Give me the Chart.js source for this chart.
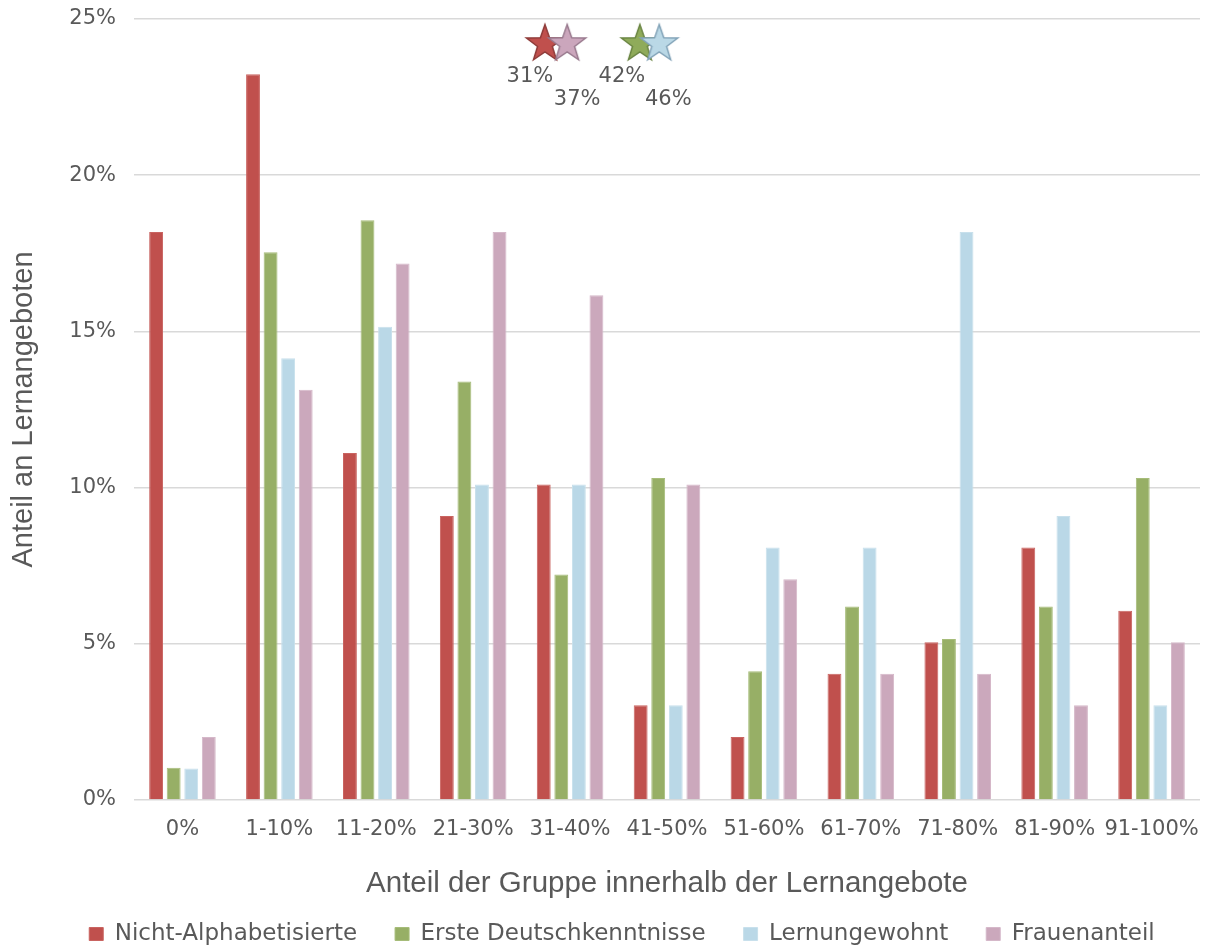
<!DOCTYPE html>
<html>
<head>
<meta charset="utf-8">
<script src="https://cdn.jsdelivr.net/npm/chart.js@4/dist/chart.umd.min.js"></script>
<style>
  html, body { margin: 0; padding: 0; background: #ffffff; }
  #wrap { width: 1219px; height: 947px; }
  canvas { display: block; }
</style>
</head>
<body>
<div id="wrap"><canvas id="chart" width="1219" height="947"></canvas></div>
<script>
// Gruppenanteil innerhalb der Lernangebote (Kategorien der x-Achse)
const categories = ['0%', '1-10%', '11-20%', '21-30%', '31-40%', '41-50%',
                    '51-60%', '61-70%', '71-80%', '81-90%', '91-100%'];

// Anteil an Lernangeboten in Prozent, je Gruppe
const nichtAlphabetisierte = [18.18, 23.23, 11.11, 9.09, 10.10, 3.03, 2.02, 4.04, 5.05, 8.08, 6.06];
const ersteDeutschkenntnisse = [1.03, 17.53, 18.56, 13.40, 7.22, 10.31, 4.12, 6.19, 5.15, 6.19, 10.31];
const lernungewohnt = [1.01, 14.14, 15.15, 10.10, 10.10, 3.03, 8.08, 8.08, 18.18, 9.09, 3.03];
const frauenanteil = [2.02, 13.13, 17.17, 18.18, 16.16, 10.10, 7.07, 4.04, 4.04, 3.03, 5.05];

// Durchschnittswerte je Gruppe (Sternmarker oben im Diagramm)
const meanValues = [31, 37, 42, 46];
const meanPosX = [3.74, 3.97, 4.72, 4.92];
const meanPosY = [24.2, 24.2, 24.2, 24.2];

// Beschriftung der y-Achse
const yTickValues = [0, 5, 10, 15, 20, 25];

const FONT = 'DejaVu Sans';
const TITLE_FONT = 'Liberation Sans';
const TEXT = '#595959';

const colors = {
  red:   { fill: '#C0504D', edge: '#C96461', star: '#C0504D', starEdge: '#8E3B39' },
  green: { fill: '#97AF66', edge: '#A6BC79', star: '#8FAB5A', starEdge: '#6A8543' },
  blue:  { fill: '#BAD8E7', edge: '#C8E0EC', star: '#BAD8E6', starEdge: '#82A3B8' },
  pink:  { fill: '#CBA8BC', edge: '#D5B8C9', star: '#CBA6BC', starEdge: '#997A8E' }
};

function makeStar(fill, stroke) {
  const R = 19.5, r = R * 0.4, size = 46;
  const cv = document.createElement('canvas');
  cv.width = size; cv.height = size;
  const g = cv.getContext('2d');
  g.translate(size / 2, size / 2);
  g.beginPath();
  for (let i = 0; i < 10; i++) {
    const rad = i % 2 ? r : R;
    const a = -Math.PI / 2 + i * Math.PI / 5;
    g.lineTo(rad * Math.cos(a), rad * Math.sin(a));
  }
  g.closePath();
  g.fillStyle = fill;
  g.fill();
  g.lineWidth = 1.5;
  g.strokeStyle = stroke;
  g.stroke();
  return cv;
}

const starOrder = ['red', 'pink', 'green', 'blue'];
const starImages = starOrder.map(k => makeStar(colors[k].star, colors[k].starEdge));

// Balkenpunkte: Kategorieindex auf der x-Achse, Prozentwert auf der y-Achse
const toPoints = values => values.map((v, i) => ({ x: i, y: v }));

// Beschriftung der Sternmarker
const starLabelPlugin = {
  id: 'starLabels',
  afterDatasetsDraw(chart, args, opts) {
    const meta = chart.getDatasetMeta(4);
    const ctx = chart.ctx;
    ctx.save();
    ctx.font = '21px "' + FONT + '"';
    ctx.fillStyle = TEXT;
    ctx.textAlign = 'center';
    ctx.textBaseline = 'middle';
    meta.data.forEach((pt, i) => {
      const off = opts.offsets[i];
      ctx.fillText(meanValues[i] + '%', pt.x + off[0], pt.y + off[1]);
    });
    ctx.restore();
  }
};

// Lage der Legende unter dem Diagramm
const legendPlacement = {
  id: 'legendPlacement',
  afterLayout(chart, args, opts) {
    const lg = chart.legend;
    if (!lg) return;
    const lab = lg.options.labels;
    const itemHeight = Math.max(lab.font.size, lab.boxHeight);
    lg.top = opts.centerY - lab.padding - itemHeight / 2;
    lg.bottom = chart.height;
    lg.height = lg.bottom - lg.top;
    lg.left += opts.dx;
    lg.right += opts.dx;
  }
};

const barDefaults = { borderWidth: 1, borderSkipped: 'bottom' };

new Chart(document.getElementById('chart'), {
  type: 'bar',
  data: {
    datasets: [
      { label: 'Nicht-Alphabetisierte', data: toPoints(nichtAlphabetisierte),
        backgroundColor: colors.red.fill, borderColor: colors.red.edge, ...barDefaults },
      { label: 'Erste Deutschkenntnisse', data: toPoints(ersteDeutschkenntnisse),
        backgroundColor: colors.green.fill, borderColor: colors.green.edge, ...barDefaults },
      { label: 'Lernungewohnt', data: toPoints(lernungewohnt),
        backgroundColor: colors.blue.fill, borderColor: colors.blue.edge, ...barDefaults },
      { label: 'Frauenanteil', data: toPoints(frauenanteil),
        backgroundColor: colors.pink.fill, borderColor: colors.pink.edge, ...barDefaults },
      { type: 'scatter', label: 'Durchschnitt',
        data: meanPosX.map((x, i) => ({ x: x, y: meanPosY[i] })),
        pointStyle: starImages, pointRadius: 18, showLine: false, order: -1 }
    ]
  },
  options: {
    responsive: false,
    animation: false,
    devicePixelRatio: 1,
    layout: { padding: { top: 18, left: 0, right: 3, bottom: 0 } },
    categoryPercentage: 0.725,
    barPercentage: 0.79,
    scales: {
      x: {
        type: 'linear',
        min: -0.5,
        max: categories.length - 0.5,
        offset: false,
        afterBuildTicks(scale) { scale.ticks = categories.map((c, i) => ({ value: i })); },
        grid: { display: false, drawTicks: false },
        border: { display: false },
        ticks: {
          color: TEXT, font: { family: FONT, size: 21 }, padding: 17,
          maxRotation: 0, autoSkip: false,
          callback: v => categories[v]
        },
        title: {
          display: true, text: 'Anteil der Gruppe innerhalb der Lernangebote',
          color: TEXT, font: { family: TITLE_FONT, size: 29.5 }, padding: { top: 0, bottom: 3 }
        },
        afterFit(scale) {
          scale.height = 105;
          scale.paddingLeft = 0;
          scale.paddingRight = 0;
        }
      },
      y: {
        min: 0, max: 25,
        afterBuildTicks(scale) { scale.ticks = yTickValues.map(v => ({ value: v })); },
        grid: { color: '#D9D9D9', lineWidth: 1.5, drawTicks: false },
        border: { display: false },
        ticks: {
          color: TEXT, font: { family: FONT, size: 21 }, padding: 18,
          callback: v => v + '%'
        },
        title: {
          display: true, text: 'Anteil an Lernangeboten',
          color: TEXT, font: { family: TITLE_FONT, size: 29 }, padding: { top: 7, bottom: 0 }
        },
        afterFit(scale) {
          scale.width = 134;
          scale.paddingTop = 0;
          scale.paddingBottom = 0;
        }
      }
    },
    plugins: {
      legend: {
        position: 'bottom',
        maxHeight: 42,
        labels: {
          color: TEXT, font: { family: FONT, size: 23 },
          boxWidth: 14, boxHeight: 13, padding: 38,
          filter: item => item.datasetIndex < 4
        }
      },
      tooltip: { enabled: false },
      starLabels: { offsets: [[-15, 33], [10, 56], [-18, 33], [9, 56]] },
      legendPlacement: { dx: 14, centerY: 934 }
    }
  },
  plugins: [starLabelPlugin, legendPlacement]
});
</script>
</body>
</html>
